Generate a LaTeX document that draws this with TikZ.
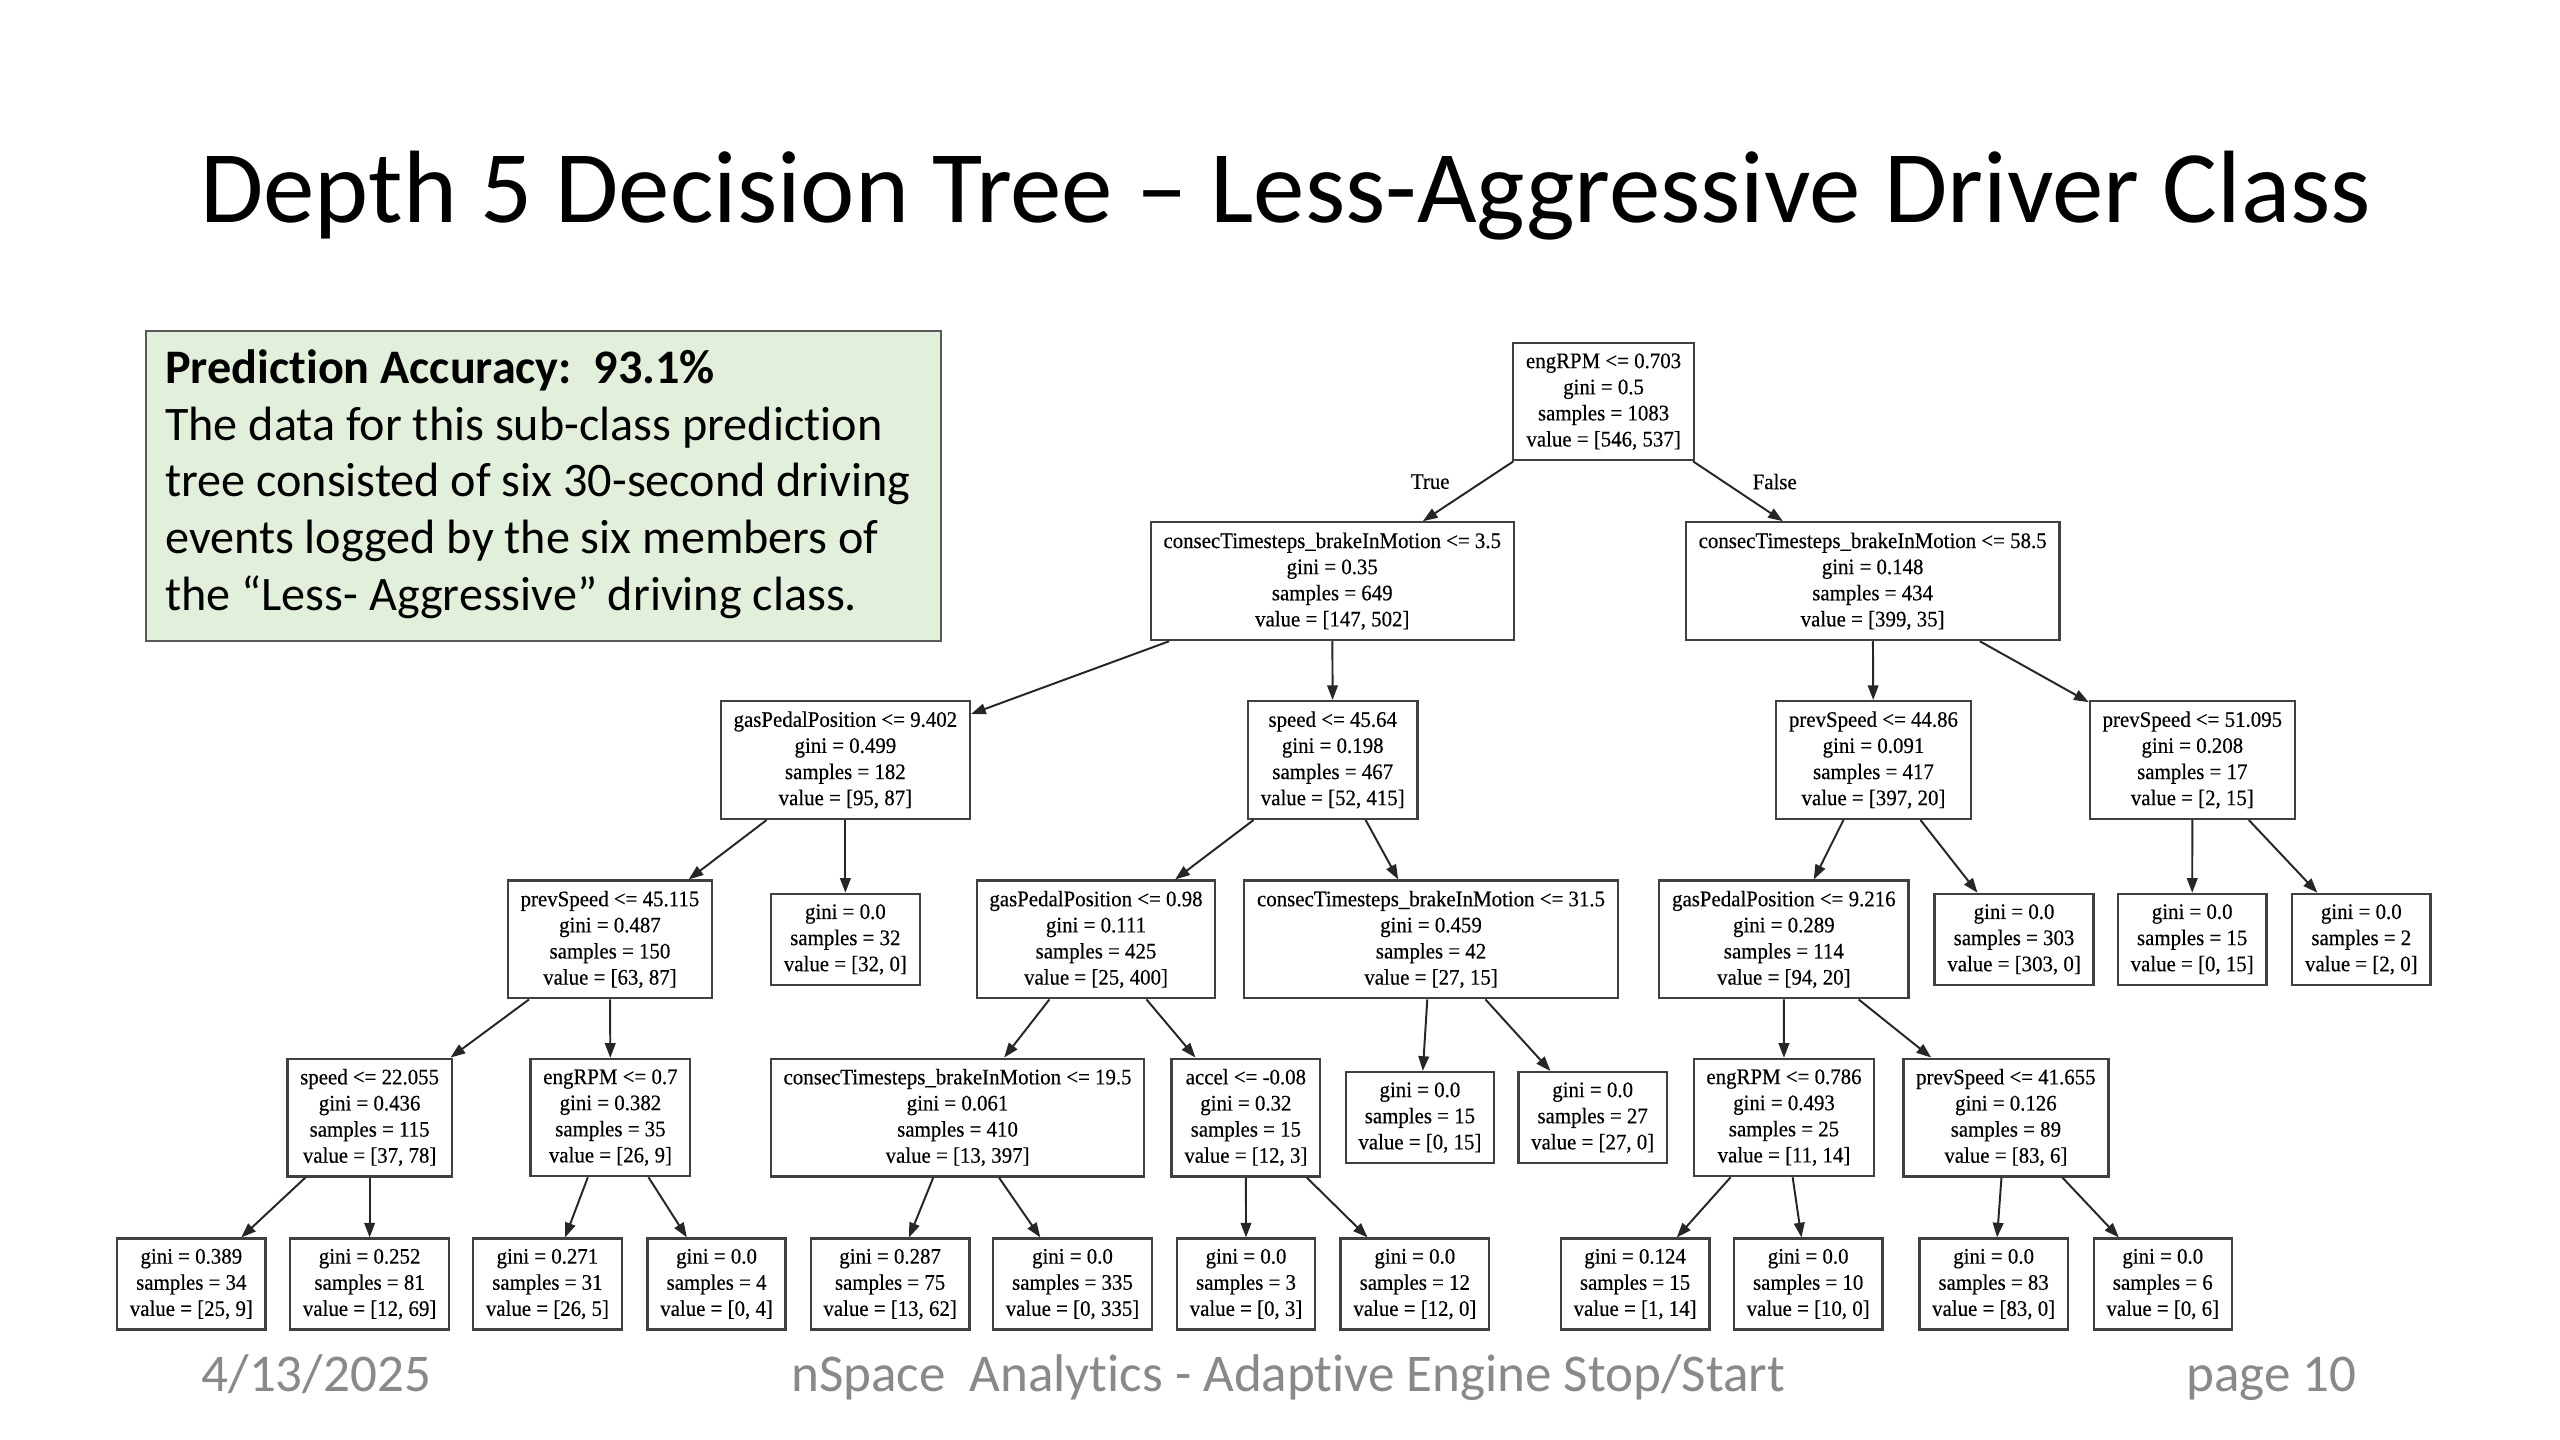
\documentclass[tikz,border=0pt]{standalone}
\usepackage{fontspec}
\setmainfont{Carlito}[Ligatures={TeX,NoCommon}]
\newfontfamily\treefont{Liberation Serif}[FakeStretch=0.94, FakeBold=0.4]
\usetikzlibrary{arrows.meta}
\definecolor{notegreen}{RGB}{226,239,218}
\definecolor{footgray}{RGB}{137,137,137}
\newcommand{\tsplit}[4]{#1\\gini = #2\\samples = #3\\value = [#4]}
\newcommand{\tleaf}[3]{gini = #1\\samples = #2\\value = [#3]}

\begin{document}
\begin{tikzpicture}[x=1pt, y=-1pt,
    dnode/.style={draw=black!75, line width=1.4pt, rectangle, align=center,
        inner xsep=7.8pt, inner ysep=6.3pt, font=\treefont\fontsize{13.6}{16}\selectfont},
    edge/.style={draw=black!85, line width=1.2pt, -{Triangle[length=9pt, width=6.5pt]}},
    branch/.style={font=\treefont\fontsize{13.6}{16}\selectfont},
    foot/.style={anchor=base, text=footgray, font=\fontsize{32.5}{39}\selectfont}]
    \fill[white] (0,0) rectangle (1568,882);
    \useasboundingbox (0,0) rectangle (1568,882);

    \node[anchor=base, font=\fontsize{63}{76}\selectfont] (title) at (787.5,136)
        {Depth 5 Decision Tree – Less-Aggressive Driver Class};

    \node[draw=black!65, line width=1.2pt, fill=notegreen, anchor=north west,
        minimum width=487pt, minimum height=190pt, inner sep=0pt] (accbox) at (89,202) {};
    \node[anchor=north west, align=left, inner sep=0pt,
        font=\fontsize{29.5}{34.7}\selectfont] (acctext) at (101,214)
        {\textbf{Prediction Accuracy:\ \ 93.1\%}\\
         The data for this sub-class prediction\\
         tree consisted of six 30-second driving\\
         events logged by the six members of\\
         the “Less- Aggressive” driving class.};

    % depth 0 and 1
    \node[dnode] (rpm0703) at (982.2,246) {\tsplit{engRPM <= 0.703}{0.5}{1083}{546, 537}};
    \node[dnode] (brk35) at (816,356) {\tsplit{consecTimesteps\_brakeInMotion <= 3.5}{0.35}{649}{147, 502}};
    \node[dnode] (brk585) at (1147,356) {\tsplit{consecTimesteps\_brakeInMotion <= 58.5}{0.148}{434}{399, 35}};

    % depth 2
    \node[dnode] (gas9402) at (517.8,465.5) {\tsplit{gasPedalPosition <= 9.402}{0.499}{182}{95, 87}};
    \node[dnode] (spd4564) at (816.3,465.5) {\tsplit{speed <= 45.64}{0.198}{467}{52, 415}};
    \node[dnode] (prv4486) at (1147.5,465.5) {\tsplit{prevSpeed <= 44.86}{0.091}{417}{397, 20}};
    \node[dnode] (prv51095) at (1342.8,465.5) {\tsplit{prevSpeed <= 51.095}{0.208}{17}{2, 15}};

    % depth 3
    \node[dnode] (prv45115) at (373.6,575.4) {\tsplit{prevSpeed <= 45.115}{0.487}{150}{63, 87}};
    \node[dnode] (lf32) at (517.8,575.4) {\tleaf{0.0}{32}{32, 0}};
    \node[dnode] (gas098) at (671.3,575.4) {\tsplit{gasPedalPosition <= 0.98}{0.111}{425}{25, 400}};
    \node[dnode] (brk315) at (876.5,575.4) {\tsplit{consecTimesteps\_brakeInMotion <= 31.5}{0.459}{42}{27, 15}};
    \node[dnode] (gas9216) at (1092.6,575.4) {\tsplit{gasPedalPosition <= 9.216}{0.289}{114}{94, 20}};
    \node[dnode] (lf303) at (1233.6,575.4) {\tleaf{0.0}{303}{303, 0}};
    \node[dnode] (lf15c) at (1342.7,575.4) {\tleaf{0.0}{15}{0, 15}};
    \node[dnode] (lf2) at (1446.3,575.4) {\tleaf{0.0}{2}{2, 0}};

    % depth 4
    \node[dnode] (spd22055) at (226.4,684.5) {\tsplit{speed <= 22.055}{0.436}{115}{37, 78}};
    \node[dnode] (rpm07) at (373.9,684.5) {\tsplit{engRPM <= 0.7}{0.382}{35}{26, 9}};
    \node[dnode] (brk195) at (586.5,684.5) {\tsplit{consecTimesteps\_brakeInMotion <= 19.5}{0.061}{410}{13, 397}};
    \node[dnode] (acc008) at (763.1,684.5) {\tsplit{accel <= -0.08}{0.32}{15}{12, 3}};
    \node[dnode] (lf15b) at (869.7,684.5) {\tleaf{0.0}{15}{0, 15}};
    \node[dnode] (lf27) at (975.5,684.5) {\tleaf{0.0}{27}{27, 0}};
    \node[dnode] (rpm0786) at (1092.7,684.5) {\tsplit{engRPM <= 0.786}{0.493}{25}{11, 14}};
    \node[dnode] (prv41655) at (1228.6,684.5) {\tsplit{prevSpeed <= 41.655}{0.126}{89}{83, 6}};

    % depth 5
    \node[dnode] (lfA) at (117.2,786.5) {\tleaf{0.389}{34}{25, 9}};
    \node[dnode] (lfB) at (226.4,786.5) {\tleaf{0.252}{81}{12, 69}};
    \node[dnode] (lfC) at (335.3,786.5) {\tleaf{0.271}{31}{26, 5}};
    \node[dnode] (lfD) at (438.9,786.5) {\tleaf{0.0}{4}{0, 4}};
    \node[dnode] (lfE) at (545.2,786.5) {\tleaf{0.287}{75}{13, 62}};
    \node[dnode] (lfF) at (656.9,786.5) {\tleaf{0.0}{335}{0, 335}};
    \node[dnode] (lfG) at (763.2,786.5) {\tleaf{0.0}{3}{0, 3}};
    \node[dnode] (lfH) at (866.6,786.5) {\tleaf{0.0}{12}{12, 0}};
    \node[dnode] (lfI) at (1001.5,786.5) {\tleaf{0.124}{15}{1, 14}};
    \node[dnode] (lfJ) at (1107.5,786.5) {\tleaf{0.0}{10}{10, 0}};
    \node[dnode] (lfK) at (1221.1,786.5) {\tleaf{0.0}{83}{83, 0}};
    \node[dnode] (lfL) at (1324.7,786.5) {\tleaf{0.0}{6}{0, 6}};

    % branches
    \draw[edge] (rpm0703) -- (brk35);
    \draw[edge] (rpm0703) -- (brk585);
    \node[branch] (lblT) at (876,295) {True};
    \node[branch] (lblF) at (1087,295) {False};
    \draw[edge] (brk35) -- (gas9402);
    \draw[edge] (brk35) -- (spd4564);
    \draw[edge] (brk585) -- (prv4486);
    \draw[edge] (brk585) -- (prv51095);
    \draw[edge] (gas9402) -- (prv45115);
    \draw[edge] (gas9402) -- (lf32);
    \draw[edge] (spd4564) -- (gas098);
    \draw[edge] (spd4564) -- (brk315);
    \draw[edge] (prv4486) -- (gas9216);
    \draw[edge] (prv4486) -- (lf303);
    \draw[edge] (prv51095) -- (lf15c);
    \draw[edge] (prv51095) -- (lf2);
    \draw[edge] (prv45115) -- (spd22055);
    \draw[edge] (prv45115) -- (rpm07);
    \draw[edge] (gas098) -- (brk195);
    \draw[edge] (gas098) -- (acc008);
    \draw[edge] (brk315) -- (lf15b);
    \draw[edge] (brk315) -- (lf27);
    \draw[edge] (gas9216) -- (rpm0786);
    \draw[edge] (gas9216) -- (prv41655);
    \draw[edge] (spd22055) -- (lfA);
    \draw[edge] (spd22055) -- (lfB);
    \draw[edge] (rpm07) -- (lfC);
    \draw[edge] (rpm07) -- (lfD);
    \draw[edge] (brk195) -- (lfE);
    \draw[edge] (brk195) -- (lfF);
    \draw[edge] (acc008) -- (lfG);
    \draw[edge] (acc008) -- (lfH);
    \draw[edge] (rpm0786) -- (lfI);
    \draw[edge] (rpm0786) -- (lfJ);
    \draw[edge] (prv41655) -- (lfK);
    \draw[edge] (prv41655) -- (lfL);

    % footer
    \node[foot, anchor=base west] (date) at (120,852) {4/13/2025};
    \node[foot] (org) at (789,852) {nSpace\ \ Analytics - Adaptive Engine Stop/Start};
    \node[foot, anchor=base east] (page) at (1447,852) {page 10};
\end{tikzpicture}
\end{document}
